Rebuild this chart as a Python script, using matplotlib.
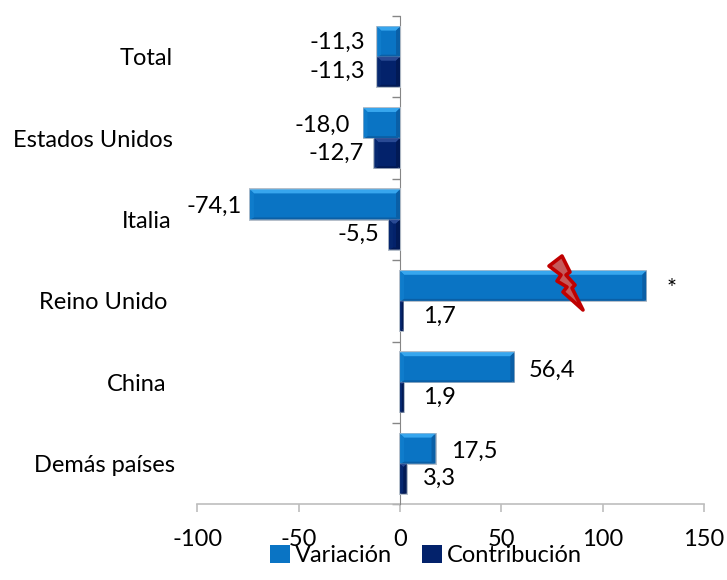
import matplotlib
matplotlib.use("Agg")
import matplotlib.pyplot as plt
import numpy as np
from matplotlib.patches import Polygon
from matplotlib.transforms import IdentityTransform, ScaledTranslation

categories = ["Total", "Estados Unidos", "Italia", "Reino Unido", "China", "Demás países"]
variacion = [-11.3, -18.0, -74.1, 121.5, 56.4, 17.5]
contribucion = [-11.3, -12.7, -5.5, 1.7, 1.9, 3.3]
var_labels = ["-11,3", "-18,0", "-74,1", "*", "56,4", "17,5"]
con_labels = ["-11,3", "-12,7", "-5,5", "1,7", "1,9", "3,3"]
x_ticks = [-100, -50, 0, 50, 100, 150]

W, H = 727, 580
plt.rcParams["font.family"] = ["Lato", "DejaVu Sans"]
plt.rcParams["axes.unicode_minus"] = False
FS = 17
fig = plt.figure(figsize=(W / 100, H / 100), dpi=100)
ax = fig.add_axes([197.4 / W, 1 - 504.4 / H, (704 - 197.4) / W, (504.4 - 16) / H])
ax.set_xlim(-100, 150)
ax.set_ylim(6, 0)
ax.patch.set_alpha(0)

y = np.arange(len(categories)) + 0.5
h = 0.37
fig.canvas.draw()


def bevel(bar, light, dark, top):
    x0, y0 = ax.transData.transform((bar.get_x(), bar.get_y()))
    x1, y1 = ax.transData.transform((bar.get_x() + bar.get_width(), bar.get_y() + bar.get_height()))
    xa, xb = min(x0, x1), max(x0, x1)
    ya, yb = min(y0, y1), max(y0, y1)
    b = min(4, (xb - xa) / 2)
    polys = [
        ([(xa, yb), (xb, yb), (xb - b, yb - b), (xa + b, yb - b)], top),
        ([(xa, ya), (xb, ya), (xb - b, ya + 2), (xa + b, ya + 2)], dark),
        ([(xa, ya), (xa, yb), (xa + b, yb - b), (xa + b, ya + 2)], light),
        ([(xb, ya), (xb, yb), (xb - b, yb - b), (xb - b, ya + 2)], dark),
    ]
    for pts, c in polys:
        fig.add_artist(Polygon(pts, closed=True, facecolor=c, edgecolor="none",
                               transform=IdentityTransform(), zorder=3))
    fig.add_artist(Polygon([(xa, ya), (xb, ya), (xb, yb), (xa, yb)], closed=True, fill=False,
                           edgecolor="#B4BEC9", lw=1.4, transform=IdentityTransform(), zorder=2.9))


bars_v = ax.barh(y - h / 2, variacion, height=h, color="#0A74C4", label="Variación", zorder=2)
bars_c = ax.barh(y + h / 2, contribucion, height=h, color="#03226B", label="Contribución", zorder=2.5)
for b in bars_v:
    bevel(b, "#0F7CCB", "#0A5FA6", "#37A6EE")
for b in bars_c:
    bevel(b, "#06276F", "#021A55", "#2A4A94")

for s in ("top", "right"):
    ax.spines[s].set_visible(False)
ax.spines["left"].set_position(("data", 0))
ax.spines["left"].set_color("#868686")
ax.spines["left"].set_zorder(4)
ax.spines["bottom"].set_color("#BDBDBD")
ax.spines["bottom"].set_linewidth(1.2)

ax.set_xticks(x_ticks)
ax.tick_params(axis="x", length=6, color="#BDBDBD", width=1.2, labelsize=FS, pad=12, labelcolor="black")
ax.set_yticks(np.arange(7))
ax.set_yticklabels([])
ax.tick_params(axis="y", which="major", length=5.5, color="#868686", width=1)
ax.set_yticks(y, minor=True)
ax.set_yticklabels(categories, minor=True, fontsize=FS)
ax.tick_params(axis="y", which="minor", length=0, pad=163.5)
label_dx = [0, 0, -1, -6, -7, 2]
for t, dx in zip(ax.yaxis.get_ticklabels(minor=True), label_dx):
    t.set_transform(t.get_transform() + ScaledTranslation(dx / 100, 0, fig.dpi_scale_trans))

var_dx = [-40, -41, -36, 25, 38, 39]
var_dy = [1, 2, 2, 3, 3, 3]
for v, yy, s, dx, dy in zip(variacion, y - h / 2, var_labels, var_dx, var_dy):
    ax.annotate(s, (v, yy), xytext=(dx * 0.72, -dy * 0.72), textcoords="offset points",
                ha="center", va="center", fontsize=FS, zorder=6)
con_dx = [-40, -38, -31, 36, 36, 33]
for v, yy, s, dx in zip(contribucion, y + h / 2, con_labels, con_dx):
    ax.annotate(s, (v, yy), xytext=(dx * 0.72, 0), textcoords="offset points",
                ha="center", va="center", fontsize=FS, zorder=6)

# lightning mark over the clipped Reino Unido bar
bolt = [(562, 256), (570, 272), (566, 275), (575, 285), (572, 288), (583, 310),
        (563, 292), (567, 287), (557, 281), (561, 275), (549, 266)]
fig.add_artist(Polygon([(px, H - py) for px, py in bolt], closed=True, facecolor="#C65A5A",
                       edgecolor="#C00000", lw=2.6, joinstyle="round",
                       transform=IdentityTransform(), zorder=5))

leg = fig.legend(handles=[bars_v, bars_c], loc="lower center", bbox_to_anchor=(426 / W, -3 / H), ncol=2,
                 frameon=False, fontsize=FS, handlelength=0.85, handleheight=0.8,
                 handletextpad=0.2, columnspacing=1.3, borderpad=0.2)
fig.savefig("out.png", dpi=100)
